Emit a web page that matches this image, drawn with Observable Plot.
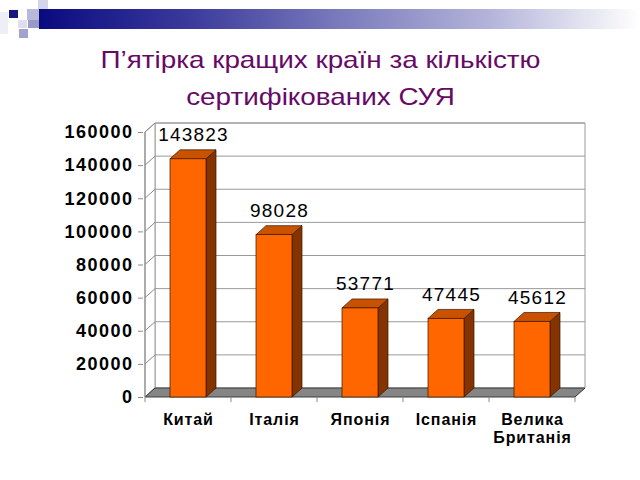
<!DOCTYPE html>
<html><head><meta charset="utf-8">
<script src="https://cdn.jsdelivr.net/npm/d3@7"></script>
<script src="https://cdn.jsdelivr.net/npm/@observablehq/plot@0.6"></script>
<style>
body{margin:0;background:#fff;width:640px;height:480px;overflow:hidden;font-family:"Liberation Sans",Arial,sans-serif;}
#head{position:relative;height:110px;}
.sq{position:absolute;}
#band{position:absolute;left:39px;top:9px;width:601px;height:20px;background:linear-gradient(to right,#0a0a80 0%,#3a3a9c 25%,#7a7abc 50%,#b4b4da 75%,#ffffff 100%);}
#title{position:absolute;top:41px;left:0;width:640px;text-align:center;color:#660a66;font-size:24px;line-height:37px;transform:scaleX(1.16);transform-origin:317px 0;}
#chart svg{display:block;}
g[aria-label="y-axis tick label"] text{letter-spacing:1.5px;}
g[aria-label="x-axis tick label"] text{letter-spacing:0.9px;}
g[aria-label="text"] text{letter-spacing:1.2px;}
</style></head>
<body>
<div id="head">
  <div class="sq" style="left:0;top:12px;width:8px;height:22px;background:#eeeef6"></div>
  <div class="sq" style="left:9px;top:10px;width:9px;height:8px;background:#16167e"></div>
  <div class="sq" style="left:38px;top:0;width:10px;height:9px;background:#d4d4ea"></div>
  <div class="sq" style="left:27px;top:9px;width:12px;height:11px;background:#b8b8da"></div>
  <div class="sq" style="left:18px;top:20px;width:9px;height:8px;background:#dedeee"></div>
  <div class="sq" style="left:28px;top:20px;width:11px;height:8px;background:#9a9ac8"></div>
  <div class="sq" style="left:19px;top:29px;width:9px;height:9px;background:#a2a2cc"></div>
  <div id="band"></div>
  <div id="title">П’ятірка кращих країн за кількістю<br>сертифікованих СУЯ</div>
</div>
<div id="chart"></div>
<script>
const countries = ["Китай", "Італія", "Японія", "Іспанія", "Велика Британія"];
const counts = [143823, 98028, 53771, 47445, 45612];
const yTicks = [0, 20000, 40000, 60000, 80000, 100000, 120000, 140000, 160000];

const data = countries.map((c, i) => ({country: c, value: counts[i]}));
const DX = 10, DY = -9;
const NS = "http://www.w3.org/2000/svg";
function el(tag, attrs) {
  const e = document.createElementNS(NS, tag);
  for (const k in attrs) e.setAttribute(k, attrs[k]);
  return e;
}
function pts(a) { return a.map(p => p.join(",")).join(" "); }

function bandInfo(x) {
  const bw = x.bandwidth();
  const step = x.step ? x.step() : bw / 0.42;
  return {bw, step, off: (step - bw) / 2};
}

// back wall, left wall diagonals, floor
const frame = (index, {x, y}) => {
  const g = el("g", {});
  const {bw, off} = bandInfo(x);
  const L = x(countries[0]) - off;
  const R = x(countries[countries.length - 1]) + bw + off;
  const y0 = y(0), yM = y(yTicks[yTicks.length - 1]);
  g.appendChild(el("polygon", {points: pts([[L + DX, yM + DY], [R + DX, yM + DY], [R + DX, y0 + DY], [L + DX, y0 + DY]]), fill: "#fff", stroke: "#9a9a9a", "stroke-width": 1}));
  g.appendChild(el("polygon", {points: pts([[L, yM], [L + DX, yM + DY], [L + DX, y0 + DY], [L, y0]]), fill: "#fff", stroke: "#9a9a9a", "stroke-width": 1}));
  for (const t of yTicks) {
    const yy = y(t);
    g.appendChild(el("line", {x1: L, y1: yy, x2: L + DX, y2: yy + DY, stroke: "#8a8a8a"}));
    if (t > 0) g.appendChild(el("line", {x1: L + DX, y1: yy + DY, x2: R + DX, y2: yy + DY, stroke: "#9a9a9a"}));
  }
  g.appendChild(el("polygon", {points: pts([[L, y0], [R, y0], [R + DX, y0 + DY], [L + DX, y0 + DY]]), fill: "#858585", stroke: "#3c3c3c", "stroke-width": 1}));
  g.appendChild(el("line", {x1: L, y1: y0, x2: L, y2: yM, stroke: "#8a8a8a"}));
  const bounds = countries.map(c => x(c) - off).concat([R]);
  for (const b of bounds) g.appendChild(el("line", {x1: b, y1: y0, x2: b, y2: y0 + 5, stroke: "#8a8a8a"}));
  return g;
};

// side and top faces of each bar
const faces = (index, {x, y}) => {
  const g = el("g", {});
  const {bw} = bandInfo(x);
  const y0 = y(0);
  for (const d of data) {
    const xl = x(d.country), xr = xl + bw, yv = y(d.value);
    g.appendChild(el("polygon", {points: pts([[xr, yv], [xr + DX, yv + DY], [xr + DX, y0 + DY], [xr, y0]]), fill: "#843400", stroke: "#3a1600", "stroke-width": 0.7}));
    g.appendChild(el("polygon", {points: pts([[xl, yv], [xr, yv], [xr + DX, yv + DY], [xl + DX, yv + DY]]), fill: "#c85200", stroke: "#3a1600", "stroke-width": 0.7}));
  }
  return g;
};

const chart = Plot.plot({
  width: 640,
  height: 370,
  marginLeft: 143,
  marginRight: 63,
  marginTop: 22,
  marginBottom: 83,
  style: {fontFamily: "'Liberation Sans', Arial, sans-serif", color: "#000", background: "#fff"},
  x: {domain: countries, paddingInner: 0.58, paddingOuter: 0.29, label: null},
  y: {domain: [0, 160000], label: null},
  marks: [
    frame,
    faces,
    Plot.barY(data, {x: "country", y: "value", fill: "#ff6600", stroke: "#3a1600", strokeWidth: 0.7}),
    Plot.text(data, {x: "country", y: "value", text: d => String(d.value), dx: DX / 2, dy: DY - 9, lineAnchor: "bottom", fontSize: 19, fill: "#000"}),
    Plot.axisY({ticks: yTicks, tickSize: 5, tickPadding: 5, tickFormat: d => String(d), fontSize: 18, fontWeight: "bold", stroke: "#8a8a8a"}),
    Plot.axisX({tickSize: 0, tickPadding: 14, tickFormat: d => d.replace(" ", "\n"), fontSize: 16, fontWeight: "bold", lineHeight: 1.15})
  ]
});
document.getElementById("chart").appendChild(chart);
</script>
</body></html>
